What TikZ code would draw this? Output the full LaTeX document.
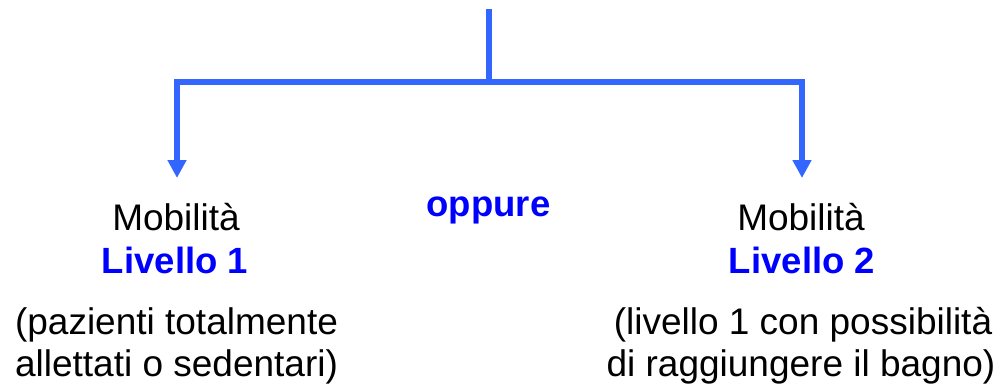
\documentclass[tikz,border=0pt]{standalone}
\usepackage{fontspec}
\setmainfont{Liberation Sans}
\usetikzlibrary{arrows.meta}
\definecolor{linkblue}{RGB}{51,102,255}
\definecolor{textblue}{RGB}{0,0,255}
\tikzset{
  conn/.style={draw=linkblue, line width=5.5pt, line join=miter},
  arr/.style={conn, -{Triangle[length=18pt,width=18pt]}},
  lbl/.style={anchor=base, inner sep=0pt, font=\fontsize{37}{42}\selectfont, text=black},
  lvl/.style={lbl, font=\fontsize{36.5}{42}\selectfont\bfseries, text=textblue}
}
\begin{document}
\begin{tikzpicture}[x=1pt,y=-1pt]
\useasboundingbox (0,0) rectangle (1000,383);
\coordinate (top) at (489,9);
\coordinate (mid) at (489,82);
\coordinate (lc) at (177,82);
\coordinate (rc) at (802,82);
\coordinate (lend) at (177,178);
\coordinate (rend) at (802,178);
\draw[conn] (top) -- (mid);
\draw[arr] (mid) -- (lc) -- (lend);
\draw[arr] (mid) -- (rc) -- (rend);
\node[lbl] (mob1) at (176,230) {Mobilità};
\node[lvl] (liv1) at (175,273) {Livello 1};
\node[lbl] (d1a) at (176.5,334) {(pazienti totalmente};
\node[lbl] (d1b) at (176.5,376) {allettati o sedentari)};
\node[lvl] (opp) at (488.5,216) {oppure};
\node[lbl] (mob2) at (801,230) {Mobilità};
\node[lvl] (liv2) at (802,273) {Livello 2};
\node[lbl] (d2a) at (803,334) {(livello 1 con possibilità};
\node[lbl] (d2b) at (801,376) {di raggiungere il bagno)};
\end{tikzpicture}
\end{document}
